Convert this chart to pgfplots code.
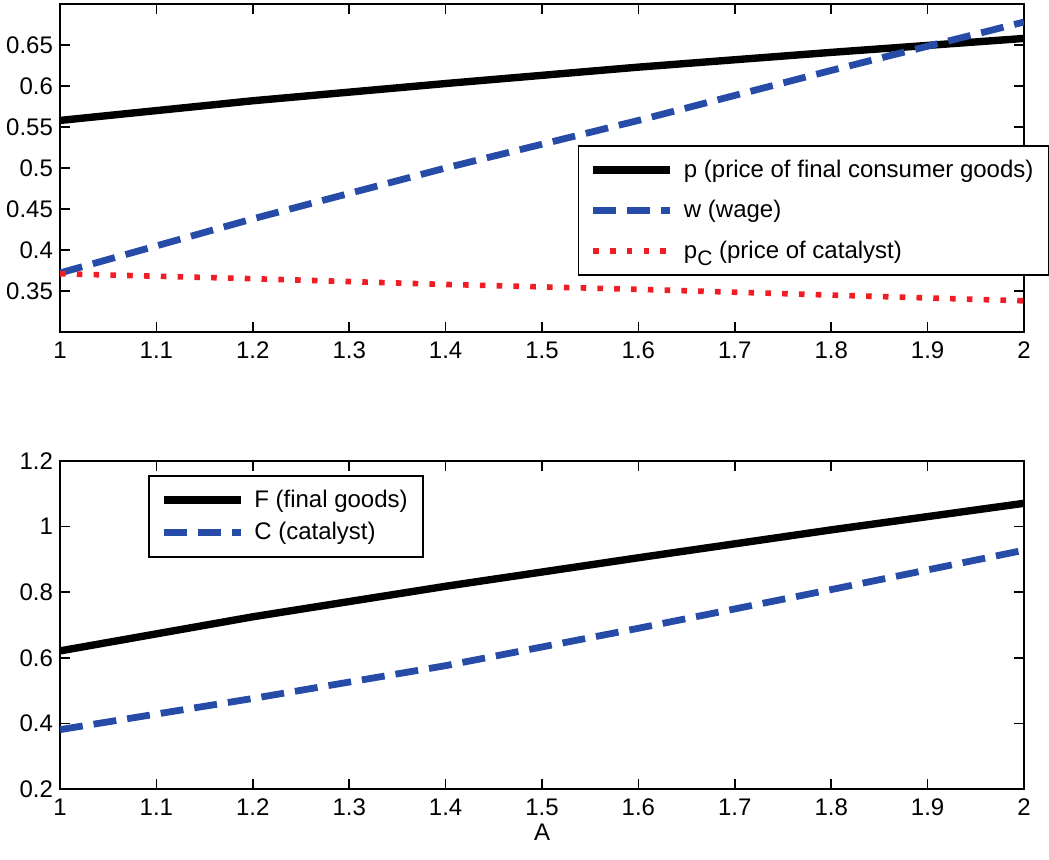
\documentclass[border=0pt]{standalone}
\usepackage{pgfplots}
\pgfplotsset{compat=1.18}
\usepackage{fontspec}
\setmainfont{Liberation Sans}
\definecolor{mblue}{RGB}{38,76,168}
\definecolor{mred}{RGB}{240,30,36}

\pgfplotsset{
  mstyle/.style={
    scale only axis, width=482pt, height=164pt,
    xmin=1, xmax=2, xtick={1,1.1,...,2.01},
    axis line style={line width=1pt}, tick style={line width=0.8pt, black},
    major tick length=5pt, tick align=inside,
    ticklabel style={font=\fontsize{12}{14}\selectfont},
    xticklabel style={yshift=-1.5pt},
    /pgf/number format/assume math mode=true,
    /pgf/number format/fixed,
    legend cell align=left,
    legend style={draw=black, line width=0.9pt, font=\fontsize{12}{14}\selectfont,
      inner xsep=5.5pt, inner ysep=5pt, row sep=6pt},
    legend image code/.code={\draw[##1] (0pt,0pt) -- (38.5pt,0pt); \path (41.5pt,0pt);},
  },
  pline/.style={black, line width=3.7pt},
  wline/.style={mblue, line width=3.4pt, dash pattern=on 11.5pt off 5.5pt},
  cline/.style={mred, line width=2.8pt, dash pattern=on 2.8pt off 5.6pt},
}

\begin{document}
\begin{tikzpicture}
\begin{axis}[mstyle, ymin=0.3, ymax=0.7, ytick={0.35,0.4,...,0.66},
  yticklabel style={/pgf/number format/precision=2},
  legend style={at={(rel axis cs:0.537,0.57)}, anchor=north west}]
\addplot[pline] coordinates {(1,0.558) (1.2,0.582) (1.4,0.603) (1.6,0.623) (1.8,0.641) (2,0.658)};
\addlegendentry{p (price of final consumer goods)}
\addplot[wline] coordinates {(1,0.372) (1.2,0.438) (1.4,0.500) (1.6,0.558) (1.8,0.619) (2,0.678)};
\addlegendentry{w (wage)}
\addplot[cline] coordinates {(1,0.371) (1.2,0.365) (1.4,0.358) (1.6,0.352) (1.8,0.345) (2,0.338)};
\addlegendentry{p\raisebox{-0.55ex}{\fontsize{10.5}{11}\selectfont C} (price of catalyst)}
\end{axis}
\begin{axis}[mstyle, yshift=-228.5pt, ymin=0.2, ymax=1.2, ytick={0.2,0.4,...,1.21},
  xlabel={A}, xlabel style={font=\fontsize{12}{14}\selectfont, yshift=3pt},
  legend style={at={(rel axis cs:0.0913,0.957)}, anchor=north west, row sep=2pt}]
\addplot[pline] coordinates {(1,0.621) (1.2,0.725) (1.4,0.818) (1.6,0.905) (1.8,0.99) (2,1.071)};
\addlegendentry{F (final goods)}
\addplot[wline] coordinates {(1,0.381) (1.2,0.476) (1.4,0.576) (1.6,0.69) (1.8,0.808) (2,0.928)};
\addlegendentry{C (catalyst)}
\end{axis}
\pgfresetboundingbox
\useasboundingbox (-30pt,-264pt) rectangle (494.5pt,166pt);
\end{tikzpicture}
\end{document}
